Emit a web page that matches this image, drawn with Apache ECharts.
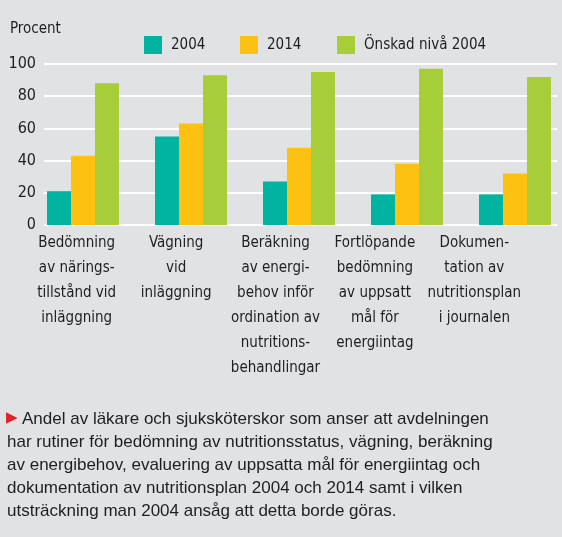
<!DOCTYPE html>
<html>
<head>
<meta charset="utf-8">
<script src="https://cdn.jsdelivr.net/npm/echarts@6/dist/echarts.min.js"></script>
<style>
  html, body { margin: 0; padding: 0; background: #e1e2e4; }
  #chart { width: 562px; height: 537px; }
</style>
</head>
<body>
<div id="chart"></div>
<script>
var categories = [
  "Bedömning\nav närings-\ntillstånd vid\ninläggning",
  "Vägning\nvid\ninläggning",
  "Beräkning\nav energi-\nbehov inför\nordination av\nnutritions-\nbehandlingar",
  "Fortlöpande\nbedömning\nav uppsatt\nmål för\nenergiintag",
  "Dokumen-\ntation av\nnutritionsplan\ni journalen"
];
var seriesNames = ["2004", "2014", "Önskad nivå 2004"];
var values2004 = [21, 55, 27, 19, 19];
var values2014 = [43, 63, 48, 38, 32];
var valuesOnskad = [88, 93, 95, 97, 92];
var yTicks = [0, 20, 40, 60, 80, 100];
var captionLines = [
  "Andel av läkare och sjuksköterskor som anser att avdelningen",
  "har rutiner för bedömning av nutritionsstatus, vägning, beräkning",
  "av energibehov, evaluering av uppsatta mål för energiintag och",
  "dokumentation av nutritionsplan 2004 och 2014 samt i vilken",
  "utsträckning man 2004 ansåg att detta borde göras."
];

var colors = ["#00b4a1", "#fdc112", "#a7cd39"];
var narrow = "'Liberation Sans Narrow', 'DejaVu Sans Condensed', sans-serif";
var txt = "#1e1e1e";

var chart = echarts.init(document.getElementById("chart"));

function legendAt(name, left) {
  return {
    data: [name],
    left: left,
    top: 36,
    padding: 0,
    itemWidth: 18,
    itemHeight: 18,
    icon: "rect",
    selectedMode: false,
    textStyle: { fontFamily: narrow, fontSize: 15, color: txt, padding: [0, 0, 0, 4] }
  };
}

var option = {
  backgroundColor: "#e1e2e4",
  animation: false,
  color: colors,
  legend: [legendAt(seriesNames[0], 144), legendAt(seriesNames[1], 240), legendAt(seriesNames[2], 337)],
  grid: [
    // bars
    { left: 29, width: 540, top: 64, height: 161, outerBoundsMode: "none" },
    // gridlines and y labels
    { left: 44, width: 513, top: 64, height: 161, outerBoundsMode: "none" },
    // category labels, set a bit tighter than the bars
    { left: 27, width: 497, top: 64, height: 161, outerBoundsMode: "none" }
  ],
  xAxis: [
    {
      type: "category",
      gridIndex: 0,
      data: categories,
      show: false
    },
    {
      type: "category",
      gridIndex: 1,
      data: categories,
      show: false
    },
    {
      type: "category",
      gridIndex: 2,
      data: categories,
      axisLine: { show: false },
      axisTick: { show: false },
      axisLabel: {
        interval: 0,
        margin: 6,
        fontFamily: narrow,
        fontSize: 15,
        lineHeight: 25,
        color: txt,
        verticalAlign: "top"
      }
    }
  ],
  yAxis: [
    {
      type: "value",
      gridIndex: 0,
      min: 0,
      max: 100,
      interval: 20,
      show: false
    },
    {
      type: "value",
      gridIndex: 1,
      min: yTicks[0],
      max: yTicks[yTicks.length - 1],
      interval: 20,
      axisLine: { show: false },
      axisTick: { show: false },
      splitLine: { show: true, lineStyle: { color: "#ffffff", width: 2 } },
      axisLabel: { margin: 8, fontFamily: narrow, fontSize: 16, color: txt }
    },
    {
      type: "value",
      gridIndex: 2,
      min: 0,
      max: 100,
      show: false
    }
  ],
  graphic: [
    {
      type: "text",
      left: 10,
      top: 22,
      style: { text: "Procent", fontFamily: narrow, fontSize: 15, fill: txt }
    },
    {
      type: "text",
      left: 6,
      top: 411,
      style: { text: "▶", fontFamily: "DejaVu Sans", fontSize: 15, fill: "#e3202a" }
    },
    {
      type: "text",
      left: 22,
      top: 408,
      style: {
        text: captionLines[0],
        fontFamily: "'Liberation Sans', Arial, sans-serif",
        fontSize: 17,
        lineHeight: 23,
        fill: txt
      }
    },
    {
      type: "text",
      left: 7,
      top: 431,
      style: {
        text: captionLines.slice(1).join("\n"),
        fontFamily: "'Liberation Sans', Arial, sans-serif",
        fontSize: 17,
        lineHeight: 23,
        fill: txt
      }
    }
  ],
  series: [
    { name: seriesNames[0], type: "bar", xAxisIndex: 0, yAxisIndex: 0, data: values2004, barWidth: 24, barGap: "0%" },
    { name: seriesNames[1], type: "bar", xAxisIndex: 0, yAxisIndex: 0, data: values2014, barWidth: 24, barGap: "0%" },
    { name: seriesNames[2], type: "bar", xAxisIndex: 0, yAxisIndex: 0, data: valuesOnskad, barWidth: 24, barGap: "0%" }
  ]
};
chart.setOption(option);
</script>
</body>
</html>
